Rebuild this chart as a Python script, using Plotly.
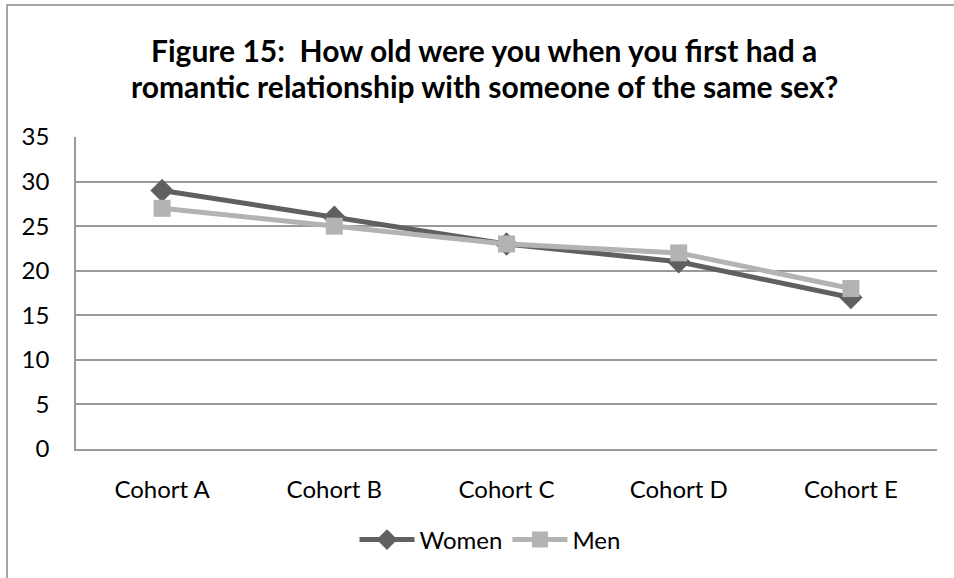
import plotly.graph_objects as go

cohorts = ["Cohort A", "Cohort B", "Cohort C", "Cohort D", "Cohort E"]
women = [29, 26, 23, 21, 17]
men = [27, 25, 23, 22, 18]
y_ticks = [0, 5, 10, 15, 20, 25, 30, 35]
title_lines = [
    "<b>Figure 15:  How old were you when you first had a</b>",
    "<b>romantic relationship with someone of the same sex?</b>",
]

FONT = "Lato"
W, H = 954, 578
L, R, T, B = 76, 937, 137, 449

fig = go.Figure()
fig.add_trace(go.Scatter(
    x=cohorts, y=women, name="Women", mode="lines+markers",
    line=dict(color="#606060", width=5),
    marker=dict(symbol="diamond", size=18, color="#606060"),
))
fig.add_trace(go.Scatter(
    x=cohorts, y=men, name="Men", mode="lines+markers",
    line=dict(color="#b3b3b3", width=5),
    marker=dict(symbol="square", size=17, color="#b3b3b3"),
))

def px_x(p):
    return (p - L) / (R - L)

def px_y(p):
    return (B - p) / (B - T)

# two-line heading, one annotation per line
annotations = [
    dict(text=line, xref="paper", yref="paper", x=px_x(484), y=px_y(yc),
         xanchor="center", yanchor="middle", showarrow=False,
         font=dict(family=FONT, size=30, color="#000000"))
    for line, yc in zip(title_lines, [50, 86])
]

fig.update_layout(
    width=W, height=H,
    margin=dict(l=L, r=W - R, t=T, b=H - B),
    paper_bgcolor="white", plot_bgcolor="white",
    font=dict(family=FONT, size=24, color="#000000"),
    annotations=annotations,
    xaxis=dict(
        range=[-0.5, 4.5],
        showgrid=False, showline=True, linecolor="#9a9a9a", linewidth=1.5,
        ticks="", tickfont=dict(size=24), ticklabelstandoff=18,
    ),
    yaxis=dict(
        range=[0, 35], tickvals=y_ticks, showgrid=True, gridcolor="#9a9a9a",
        gridwidth=1.5, showline=True, linecolor="#9a9a9a", linewidth=1.5,
        zeroline=False, ticks="", tickfont=dict(size=24), ticklabelstandoff=20,
    ),
    showlegend=True,
    legend=dict(
        orientation="h", x=px_x(490), xanchor="center",
        y=px_y(540), yanchor="middle", font=dict(size=24),
        itemwidth=55, traceorder="normal",
    ),
    shapes=[dict(
        type="rect", xref="paper", yref="paper",
        x0=px_x(7), x1=1.2, y0=-0.6, y1=px_y(5),
        line=dict(color="#8a8a8a", width=1.5), layer="below",
    )],
)

fig.write_html("out.html")
